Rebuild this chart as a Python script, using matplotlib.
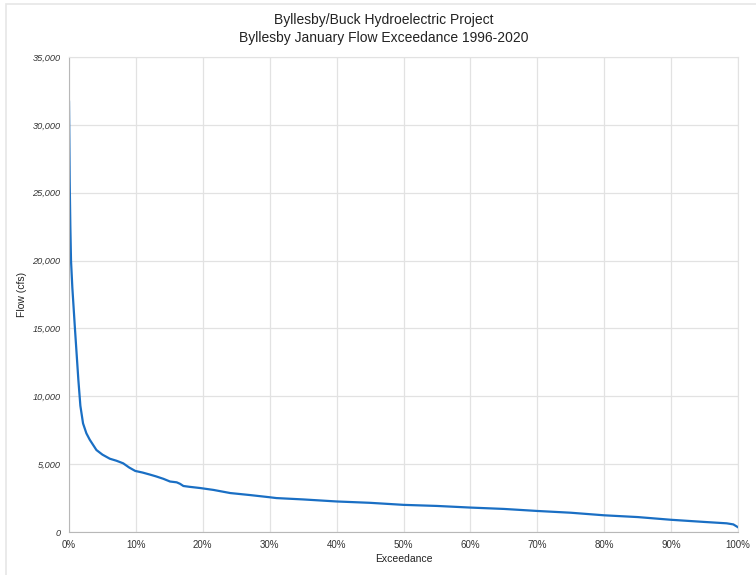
import matplotlib
matplotlib.use('Agg')
import matplotlib.pyplot as plt
from matplotlib.patches import Rectangle
from matplotlib.ticker import FuncFormatter

plt.rcParams['font.family'] = ['Liberation Sans', 'DejaVu Sans']

# exceedance (%) and flow (cfs)
exceedance = [0, 0.1, 0.2, 0.3, 0.5, 0.9, 1.4, 1.7, 2.1, 2.6, 3.1, 4.1, 5, 6.1, 7.1, 8.1,
              9, 9.9, 11, 12.1, 13, 14.1, 15.1, 16.1, 16.6, 17.1, 18, 19.6, 21.6, 24.1,
              27.1, 30, 31, 35, 40, 45, 50, 55, 60, 65, 70, 75, 80, 85, 90, 95, 98.3,
              99.3, 100]
flow = [31700, 26000, 22500, 20000, 18000, 14900, 11200, 9300, 8000, 7270, 6800, 6040,
        5700, 5400, 5250, 5060, 4750, 4500, 4380, 4230, 4100, 3920, 3720, 3660, 3550,
        3390, 3330, 3240, 3100, 2870, 2720, 2560, 2500, 2400, 2250, 2150, 2000, 1920,
        1800, 1700, 1550, 1420, 1230, 1100, 900, 740, 640, 560, 350]

x_ticks = list(range(0, 101, 10))
y_ticks = list(range(0, 35001, 5000))

fig = plt.figure(figsize=(7.56, 5.75), dpi=100)
ax = fig.add_axes([69/756, 43/575, 669/756, 475/575])

ax.plot(exceedance, flow, color='#1a6fc4', lw=1.6, solid_joinstyle='round')

ax.set_xlim(0, 100)
ax.set_ylim(0, 35000)
ax.set_xticks(x_ticks)
ax.set_yticks(y_ticks)
ax.xaxis.set_major_formatter(FuncFormatter(lambda v, p: '{:.0f}%'.format(v)))
ax.yaxis.set_major_formatter(FuncFormatter(lambda v, p: '{:,.0f}'.format(v)))
ax.grid(True, color='#e2e2e2', lw=0.9)
ax.set_axisbelow(True)
ax.tick_params(length=0, labelsize=7, colors='#333333')
ax.tick_params(axis='x', pad=6)
ax.tick_params(axis='y', pad=6, labelsize=6.6)
for lab in ax.get_yticklabels():
    lab.set_style('italic')
for s in ['top', 'right']:
    ax.spines[s].set_color('#e2e2e2')
for s in ['left', 'bottom']:
    ax.spines[s].set_color('#b8b8b8')

ax.set_xlabel('Exceedance', fontsize=7.5, color='#222222', labelpad=3)
ax.set_ylabel('Flow (cfs)', fontsize=7.5, color='#222222')
ax.yaxis.set_label_coords(-0.063, 0.5)

fig.text(384/756, 1 - 20/575, 'Byllesby/Buck Hydroelectric Project', ha='center', va='center',
         fontsize=10, color='#222222')
fig.text(384/756, 1 - 38/575, 'Byllesby January Flow Exceedance 1996-2020', ha='center',
         va='center', fontsize=10, color='#222222')

fig.add_artist(Rectangle((6/756, -0.01), 1.0, 1 - 4/575 + 0.01, transform=fig.transFigure,
                         fill=False, edgecolor='#e6e6e6', lw=1.2))

fig.savefig('out.png', dpi=100)
